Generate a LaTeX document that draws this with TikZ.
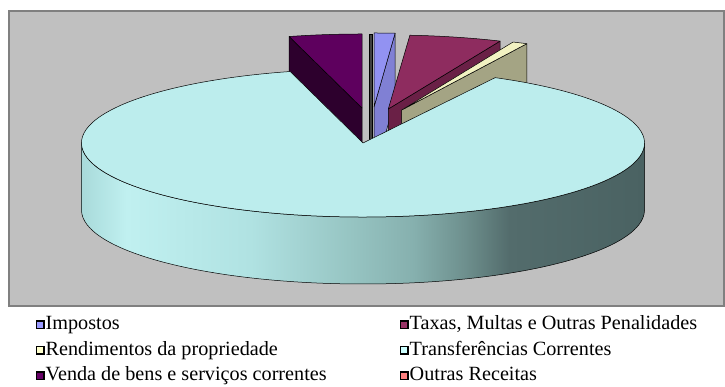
\documentclass[tikz,border=0pt]{standalone}
\usepackage{fontspec}
\setmainfont{Liberation Serif}
\definecolor{bgfill}{HTML}{C0C0C0}
\definecolor{bgborder}{HTML}{808080}
\definecolor{vtop}{RGB}{94,0,94}
\definecolor{vside}{RGB}{45,0,45}
\definecolor{itop}{RGB}{146,146,242}
\definecolor{iside}{RGB}{128,128,212}
\definecolor{ttop}{RGB}{142,44,95}
\definecolor{tside}{RGB}{106,32,70}
\definecolor{rtop}{RGB}{242,242,194}
\definecolor{rside}{RGB}{164,164,132}
\definecolor{ctop}{RGB}{188,237,237}
\definecolor{csA}{RGB}{168,218,218}
\definecolor{csB}{RGB}{192,240,240}
\definecolor{csC}{RGB}{176,226,226}
\definecolor{csD}{RGB}{150,196,194}
\definecolor{csE}{RGB}{134,176,174}
\definecolor{csF}{RGB}{110,144,142}
\definecolor{csG}{RGB}{83,108,108}
\definecolor{csH}{RGB}{74,98,98}
\definecolor{lgI}{HTML}{9999FF}
\definecolor{lgT}{HTML}{993366}
\definecolor{lgR}{HTML}{FFFFCC}
\definecolor{lgC}{HTML}{CCFFFF}
\definecolor{lgV}{HTML}{660066}
\definecolor{lgO}{HTML}{FF8080}
\pgfdeclarehorizontalshading{cyanside}{100bp}{color(0bp)=(csA); color(25bp)=(csA); color(29bp)=(csB); color(40bp)=(csC); color(49bp)=(csD); color(54.5bp)=(csE); color(59bp)=(csF); color(63bp)=(csG); color(75bp)=(csH); color(100bp)=(csH)}
\newcommand\expslice[7]{%
  \draw[edge, fill=#6] ({363+#1},{244+#2}) -- ({363+#1+281.5*cos(#7)},{244+#2+74*sin(#7)}) -- ++(0,-67) -- ({363+#1},{244+#2-67}) -- cycle;
  \draw[edge, fill=#5] ({363+#1},{244+#2}) -- ({363+#1+281.5*cos(#3)},{244+#2+74*sin(#3)}) arc[start angle=#3, end angle=#4, x radius=281.5, y radius=74] -- cycle;}
\begin{document}
\begin{tikzpicture}[x=1pt,y=1pt,
  edge/.style={draw=black, line width=0.5pt, line join=round},
  swatchbox/.style={draw=black, line width=1.3pt},
  legtext/.style={anchor=base west, inner sep=0pt, font=\fontsize{20.2}{22}\selectfont}]
\useasboundingbox (0,0) rectangle (725,387);
\fill[white] (0,0) rectangle (725,387);
\draw[fill=bgfill, draw=bgborder, line width=2pt] (9,81) rectangle (724,376);
% exploded slices (back)
\expslice{-1}{35}{90}{105}{vtop}{vside}{105}
\draw[line width=0.6pt, fill=black!75] (369,212) rectangle (372,353);
\expslice{11}{36}{85.7}{90}{itop}{iside}{85.7}
\expslice{25.3}{34}{66.6}{85.6}{ttop}{tside}{66.6}
\expslice{38.7}{33}{63.6}{66.7}{rtop}{rside}{63.6}
% big slice
\shade[shading=cyanside] (81.5,244) arc[start angle=180,end angle=360,x radius=281.5,y radius=74] -- (644.5,177) arc[start angle=0,end angle=-180,x radius=281.5,y radius=74] -- cycle;
\draw[edge] (81.5,244) arc[start angle=180,end angle=360,x radius=281.5,y radius=74] -- (644.5,177) arc[start angle=0,end angle=-180,x radius=281.5,y radius=74] -- cycle;
\draw[edge, fill=ctop] (363,244) -- ({363+281.5*cos(62)},{244+74*sin(62)}) arc[start angle=62, end angle=-255, x radius=281.5, y radius=74] -- cycle;
% legend
\draw[swatchbox, fill=lgI] (36.5,58.5) rectangle (44,66);
\node[legtext] (l1) at (45.5,57) {Impostos};
\draw[swatchbox, fill=lgR] (36.5,33) rectangle (44,40.5);
\node[legtext] (l2) at (45.5,31.5) {Rendimentos da propriedade};
\draw[swatchbox, fill=lgV] (36.5,7.5) rectangle (44,15);
\node[legtext] (l3) at (45.5,6) {Venda de bens e serviços correntes};
\draw[swatchbox, fill=lgT] (400.5,58.5) rectangle (408,66);
\node[legtext] (l4) at (409.5,57) {Taxas, Multas e Outras Penalidades};
\draw[swatchbox, fill=lgC] (400.5,33) rectangle (408,40.5);
\node[legtext] (l5) at (409.5,31.5) {Transferências Correntes};
\draw[swatchbox, fill=lgO] (400.5,7.5) rectangle (408,15);
\node[legtext] (l6) at (409.5,6) {Outras Receitas};
\end{tikzpicture}
\end{document}
